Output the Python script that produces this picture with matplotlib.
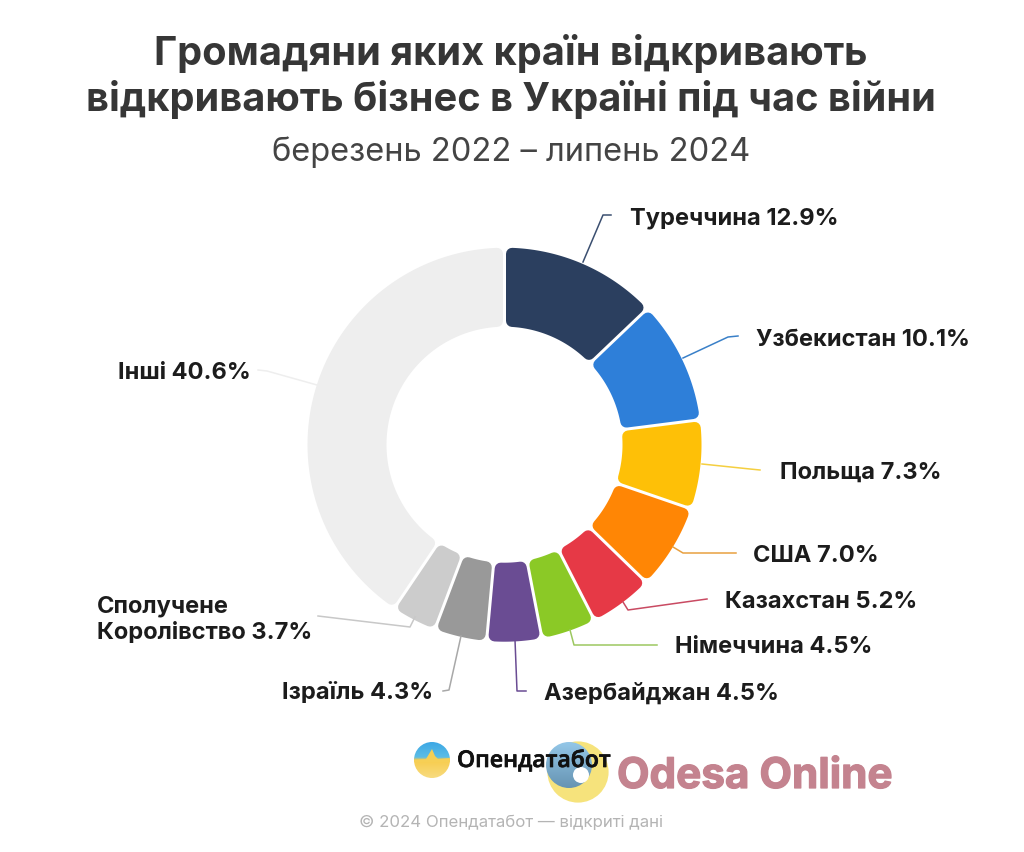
import numpy as np
import matplotlib
matplotlib.use("Agg")
import matplotlib.pyplot as plt
import matplotlib.patheffects as pe
from matplotlib.path import Path
from matplotlib.patches import Circle

countries = ["Туреччина", "Узбекистан", "Польща", "США", "Казахстан", "Німеччина",
             "Азербайджан", "Ізраїль", "Сполучене\nКоролівство", "Інші"]
shares = [12.9, 10.1, 7.3, 7.0, 5.2, 4.5, 4.5, 4.3, 3.7, 40.6]
colors = ["#2B3F5F", "#2E7FD9", "#FEC007", "#FF8605", "#E63946", "#8BC926",
          "#6A4C93", "#999999", "#CCCCCC", "#EEEEEE"]
line_colors = ["#3B4F70", "#3A80C8", "#F5CF40", "#E8A040", "#C94A62", "#9CC860",
               "#6A4C93", "#A8A8A8", "#C8C8C8", "#EEEEEE"]
title_lines = ["Громадяни яких країн відкривають", "відкривають бізнес в Україні під час війни"]
subtitle = "березень 2022 – липень 2024"
footer = "© 2024 Опендатабот — відкриті дані"
logo_text = "Опендатабот"
watermark = "Odesa Online"

# layout, in pixels of the 1024x853 canvas
CX, CY, RO, RI = 504.5, 445.7, 197.0, 118.0
CORNER, GAP = 6.0, 3.0
label_pos = [(630, 218, "left"), (756, 340, "left"), (780, 473, "left"), (753, 556, "left"),
             (725, 602, "left"), (675, 647, "left"), (544, 694, "left"), (433, 693, "right"),
             (97, 620, "left"), (118, 373, "left")]
leaders = [[(583, 263), (603, 216), (611, 216)],
           [(683, 359), (728, 338), (738, 337)],
           [(702, 465), (750, 470), (760, 471)],
           [(673, 548), (683, 554), (736, 554)],
           [(623, 603), (628, 611), (707, 600)],
           [(570, 631), (574, 646), (657, 646)],
           [(515, 641), (517, 692), (526, 692)],
           [(461, 637), (449, 691), (443, 692)],
           [(415, 618), (410, 628), (318, 617)],
           [(317, 386), (267, 372), (258, 371)]]

plt.rcParams["font.family"] = ["Inter", "DejaVu Sans"]
fig = plt.figure(figsize=(10.24, 8.53), dpi=100, facecolor="white")
ax = fig.add_axes([0, 0, 1, 1])

wedges, _ = ax.pie(shares, colors=colors, startangle=-90, counterclock=True,
                   center=(CX, CY), radius=RO, normalize=True)


def rounded_ring_path(t1, t2):
    ro, ri = RO - CORNER, RI + CORNER
    d = CORNER + GAP / 2
    ao = np.linspace(t1 + np.degrees(np.arcsin(d / ro)), t2 - np.degrees(np.arcsin(d / ro)), 80)
    ai = np.linspace(t2 - np.degrees(np.arcsin(d / ri)), t1 + np.degrees(np.arcsin(d / ri)), 80)
    xs = np.r_[CX + ro * np.cos(np.radians(ao)), CX + ri * np.cos(np.radians(ai))]
    ys = np.r_[CY + ro * np.sin(np.radians(ao)), CY + ri * np.sin(np.radians(ai))]
    verts = np.c_[np.r_[xs, xs[0]], np.r_[ys, ys[0]]]
    codes = [Path.MOVETO] + [Path.LINETO] * (len(xs) - 1) + [Path.CLOSEPOLY]
    return Path(verts, codes)


for w, c in zip(wedges, colors):
    w._path = rounded_ring_path(w.theta1, w.theta2)
    w.set_edgecolor(c)
    w.set_linewidth(2 * CORNER * 72 / 100)
    w.set_joinstyle("round")
    w.set_antialiased(True)

for pts, c in zip(leaders, line_colors):
    xs, ys = zip(*pts)
    ax.plot(xs, ys, color=c, lw=1.1, solid_joinstyle="round", zorder=1)

for name, val, (x, y, ha) in zip(countries, shares, label_pos):
    ax.text(x, y, f"{name} {val:.1f}%", ha=ha, va="center", fontsize=17.0, fontweight="bold",
            color="#1C1C1C", linespacing=1.25)

for line, y in zip(title_lines, (53, 99)):
    ax.text(511, y, line, ha="center", va="center", fontsize=28.6, fontweight="bold", color="#363636")
ax.text(511, 152, subtitle, ha="center", va="center", fontsize=23.5, color="#444444")
ax.text(511, 822, footer, ha="center", va="center", fontsize=12.1, color="#B4B4B4")


def vertical_gradient(stops, rgb):
    t = np.linspace(0, 1, 64)
    return np.stack([np.interp(t, stops, [c[i] for c in rgb]) for i in range(3)], axis=1)[:, None, :]


# source logo: blue sky over a yellow field with a pulse spike
logo_clip = Circle((432, 761), 18, transform=ax.transData)
img = ax.imshow(vertical_gradient([0, 0.42, 0.5, 1],
                                  [(0.24, 0.66, 0.90), (0.36, 0.74, 0.90), (0.97, 0.80, 0.30), (0.97, 0.86, 0.50)]),
                extent=(414, 450, 779, 743), aspect="auto", zorder=3)
img.set_clip_path(logo_clip)
spike = ax.fill([414, 426, 429, 432, 435, 438, 450, 450, 414], [761, 760, 755, 750, 757, 760, 759, 763, 763],
                color="#F6CF55", lw=0, zorder=4)[0]
spike.set_clip_path(logo_clip)
ax.text(457, 762, logo_text, ha="left", va="center", fontsize=16.6, fontweight="semibold",
        color="#111111", zorder=7, family=["Open Sans", "DejaVu Sans"],
        path_effects=[pe.withStroke(linewidth=0.5, foreground="#111111")])

# watermark
ax.add_patch(Circle((578, 773), 30.6, fc="#F6E37C", ec="none", zorder=4))
blue = ax.imshow(vertical_gradient([0, 1], [(0.58, 0.78, 0.91), (0.40, 0.58, 0.70)]),
                 extent=(546, 592, 789, 743), aspect="auto", zorder=5)
blue_clip = Circle((569, 766), 23, transform=ax.transData)
blue.set_clip_path(blue_clip)
ax.add_patch(Circle((581, 776), 8, fc="white", ec="none", zorder=6))
ax.text(617, 778, watermark, ha="left", va="center", fontsize=30.4, fontweight="bold",
        color="#C4838F", zorder=6, path_effects=[pe.withStroke(linewidth=0.9, foreground="#C4838F")])

ax.set_xlim(0, 1024)
ax.set_ylim(853, 0)
ax.set_aspect("auto")
ax.axis("off")
fig.savefig("out.png", dpi=100, facecolor="white")
